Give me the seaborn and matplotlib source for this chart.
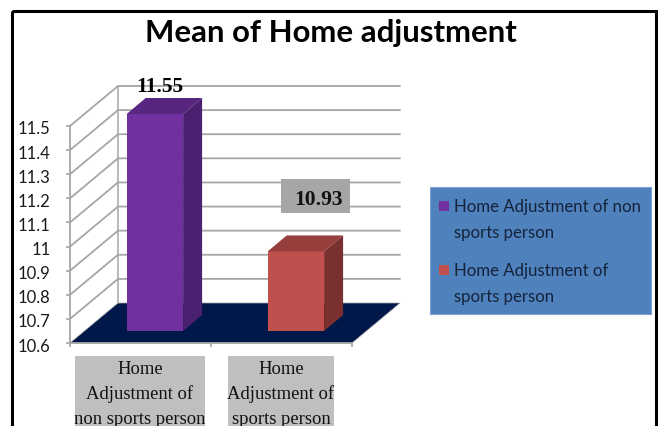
import numpy as np
import pandas as pd
import seaborn as sns
import matplotlib.pyplot as plt
import matplotlib.patches as mpatches
from matplotlib.transforms import Affine2D

title = 'Mean of Home adjustment'
categories = ['Home Adjustment of non sports person', 'Home Adjustment of sports person']
values = [11.55, 10.93]
value_labels = ['11.55', '10.93']
axis_labels = ['Home\nAdjustment of\nnon sports person', 'Home\nAdjustment of\nsports person']
legend_labels = ['Home Adjustment of non\nsports person', 'Home Adjustment of\nsports person']
y_ticks = [10.6, 10.7, 10.8, 10.9, 11, 11.1, 11.2, 11.3, 11.4, 11.5]
y_tick_labels = ['10.6', '10.7', '10.8', '10.9', '11', '11.1', '11.2', '11.3', '11.4', '11.5']

front = ['#7030A0', '#C0504D']
top = ['#582680', '#963F3C']
side = ['#4A2070', '#7A302E']
FLOOR = '#00174A'
GRID = '#A6A6A6'
TEXT_LEGEND = '#14233A'

W, H = 661, 426
X0, X1, Y0, Y1 = 70, 352, 343, 126   # front plane of the chart, pixels
DX, DY = 48, -40                     # depth of the box
BAR_F = 0.3                          # where the bars sit in the depth
BDX, BDY = 19, -16                   # depth of a bar

sns.set_style('white')
fig = plt.figure(figsize=(W / 100, H / 100), dpi=100, facecolor='white')


def place(x0, x1, y_bottom, y_top):
    return [x0 / W, 1 - y_bottom / H, (x1 - x0) / W, (y_bottom - y_top) / H]


# image pixels (y down) -> display
px = Affine2D().scale(1, -1).translate(0, H)

# wall + floor, in pixels
bg = fig.add_axes([0, 0, 1, 1], zorder=0)
bg.set_xlim(0, W)
bg.set_ylim(H, 0)
bg.axis('off')

bg.add_patch(mpatches.Rectangle((12, 11), 644, 430, fc='none', ec='black', lw=2.2, clip_on=False))

# value axis
ax = fig.add_axes(place(X0, X1, Y0, Y1), zorder=1)
ax.patch.set_alpha(0)
ax.set_xlim(0, 2)
ax.set_ylim(y_ticks[0], y_ticks[-1])
ax.set_yticks(y_ticks)
ax.set_yticklabels(y_tick_labels, family='Lato', fontsize=12, color='#1a1a1a')
ax.set_xticks([0, 1, 2])
ax.set_xticklabels([])
ax.tick_params(axis='both', length=3, width=1.2, color=GRID, left=True, bottom=True)
ax.tick_params(axis='y', pad=11)
for lab in ax.get_yticklabels():
    lab.set_transform(lab.get_transform() + Affine2D().translate(0, -2))  # labels sit a bit low
for name, sp in ax.spines.items():
    sp.set_visible(name in ('left', 'bottom'))
    sp.set_color(GRID)
    sp.set_linewidth(1.3)

scale = (Y0 - Y1) / (y_ticks[-1] - y_ticks[0])
for t in y_ticks:
    y = Y0 - (t - y_ticks[0]) * scale
    if t != y_ticks[0]:
        bg.plot([X0, X0 + DX, X1 + DX], [y, y + DY, y + DY], color=GRID, lw=1.3, solid_joinstyle='miter')
bg.plot([X0 + DX, X0 + DX], [Y0 + DY, Y1 + DY], color=GRID, lw=1.1)
bg.add_patch(mpatches.Polygon([(X0, Y0), (X0 + DX, Y0 + DY), (X1 + DX, Y0 + DY), (X1, Y0)],
                              fc=FLOOR, ec=GRID, lw=0.5))

# bars on their own plane, a bit back from the front
bar_ax = fig.add_axes(place(X0 + DX * BAR_F, X1 + DX * BAR_F, Y0 + DY * BAR_F, Y1 + DY * BAR_F), zorder=2)
df = pd.DataFrame({'group': categories, 'mean': values})
sns.barplot(data=df, x='group', y='mean', hue='group', palette=front, width=0.4,
            legend=False, saturation=1, linewidth=0, ax=bar_ax)
bar_ax.set_xlim(-0.5, 1.5)
bar_ax.set_ylim(y_ticks[0], y_ticks[-1])
bar_ax.patch.set_alpha(0)
bar_ax.axis('off')

fig.canvas.draw()
to_px = bar_ax.transData + px.inverted()
for i, patch in enumerate(bar_ax.patches):
    x_l = patch.get_x()
    x_r = x_l + patch.get_width()
    h = min(values[i], y_ticks[-1])  # axis stops at 11.5
    (a, b), (c, d) = to_px.transform([(x_l, h), (x_r, y_ticks[0])])
    top_face = [(a, b), (a + BDX, b + BDY), (c + BDX, b + BDY), (c, b)]
    side_face = [(c, b), (c + BDX, b + BDY), (c + BDX, d + BDY), (c, d)]
    bar_ax.add_patch(mpatches.Polygon(top_face, fc=top[i], ec='none', transform=px, clip_on=False, zorder=3))
    bar_ax.add_patch(mpatches.Polygon(side_face, fc=side[i], ec='none', transform=px, clip_on=False, zorder=3))

# value labels and category labels on top of everything
fg = fig.add_axes([0, 0, 1, 1], zorder=3)
fg.set_xlim(0, W)
fg.set_ylim(H, 0)
fg.axis('off')

fg.text(331, 33, title, family='Lato', fontweight='bold', fontsize=22.4, ha='center', va='center', color='black')

fg.text(160, 87, value_labels[0], family='Liberation Serif', fontweight='bold', fontsize=15.5,
        ha='center', va='center', color='black')
fg.add_patch(mpatches.Rectangle((281, 179), 69, 34, fc='#A6A6A6', ec='none'))
fg.text(318, 200, value_labels[1], family='Liberation Serif', fontweight='bold', fontsize=15.5,
        ha='center', va='center', color='#111111')

label_boxes = [(75, 205), (228, 334)]
for (x_l, x_r), lab in zip(label_boxes, axis_labels):
    fg.add_patch(mpatches.Rectangle((x_l, 356), x_r - x_l, 70, fc='#BFBFBF', ec='none'))
    for line, y in zip(lab.split('\n'), [370, 394, 419]):
        fg.text((x_l + x_r) / 2, y, line, family='Liberation Serif', fontsize=13.4, ha='center', va='center',
                color='#111111')

# legend box
fg.add_patch(mpatches.Rectangle((430, 187), 221, 127, fc='#4F81BD', ec='#7FA3D0', lw=0.8))
for i, lab in enumerate(legend_labels):
    y_first = 207 + i * 64
    fg.add_patch(mpatches.Rectangle((439, y_first - 6), 10, 10, fc=front[i], ec='none'))
    for j, line in enumerate(lab.split('\n')):
        fg.text(454, y_first + j * 26, line, family='Lato', fontsize=12.1, ha='left', va='center',
                color=TEXT_LEGEND)

fig.savefig('out.png', dpi=100)
